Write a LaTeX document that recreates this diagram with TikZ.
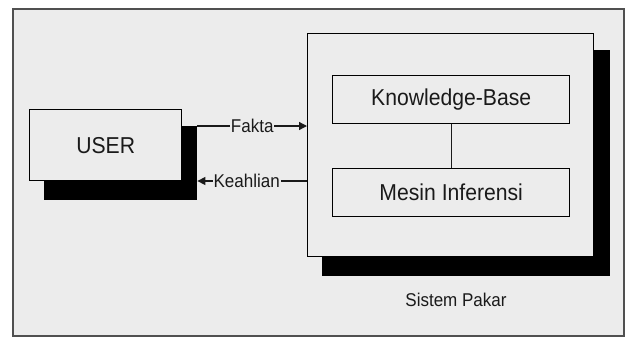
\documentclass[tikz,border=0pt]{standalone}
\usepackage{fontspec}
\setmainfont[FakeStretch=0.92]{Liberation Sans}
\usetikzlibrary{arrows.meta}
\definecolor{bg}{HTML}{ECECEC}
\definecolor{framec}{HTML}{505050}
\definecolor{ink}{HTML}{1A1A1A}
\tikzset{
  box/.style={draw=black, line width=1.4pt, fill=bg, inner sep=0pt, text=ink},
  shadowbox/.style={fill=black, draw=none, inner sep=0pt},
  bigtext/.style={font=\fontsize{23}{23}\selectfont},
  smalltext/.style={font=\fontsize{18.5}{18.5}\selectfont, text=ink},
  conn/.style={line width=1.3pt, draw=ink},
  tip/.style={-{Triangle[length=8pt,width=8pt]}},
  lbl/.style={fill=bg, inner sep=1pt, smalltext}
}
\begin{document}
\begin{tikzpicture}[x=1pt,y=-1pt]
\useasboundingbox (0,0) rectangle (628,341);
\fill[white] (0,0) rectangle (628,341);
% outer frame
\draw[framec, line width=1.8pt, fill=bg] (13,9) rectangle (624,336);
% USER with shadow
\node[shadowbox, minimum width=153pt, minimum height=74pt, anchor=north west] (ushadow) at (44,126) {};
\node[box, bigtext, minimum width=152pt, minimum height=71pt, anchor=north west] (user) at (29,109) {USER};
% Sistem Pakar with shadow
\node[shadowbox, minimum width=288pt, minimum height=226pt, anchor=north west] (spshadow) at (322,50) {};
\node[box, minimum width=286pt, minimum height=223pt, anchor=north west] (sp) at (307,33) {};
\node[box, bigtext, minimum width=237pt, minimum height=48pt, anchor=north west] (kb) at (332,75) {Knowledge-Base};
\node[box, bigtext, minimum width=237pt, minimum height=48pt, anchor=north west] (mi) at (332,168) {Mesin Inferensi};
\node[smalltext, anchor=center] (splabel) at (456,300) {Sistem Pakar};
% connectors
\draw[conn] (kb) -- (mi);
\coordinate (fs) at (ushadow.north east);
\coordinate (fe) at (fs -| sp.west);
\draw[conn, tip] (fs) -- node[lbl] {Fakta} (fe);
\coordinate (ks) at (sp.west |- 0,181);
\coordinate (ke) at (ushadow.east |- 0,181);
\draw[conn, tip] (ks) -- node[lbl, pos=0.55] {Keahlian} (ke);
\end{tikzpicture}
\end{document}
